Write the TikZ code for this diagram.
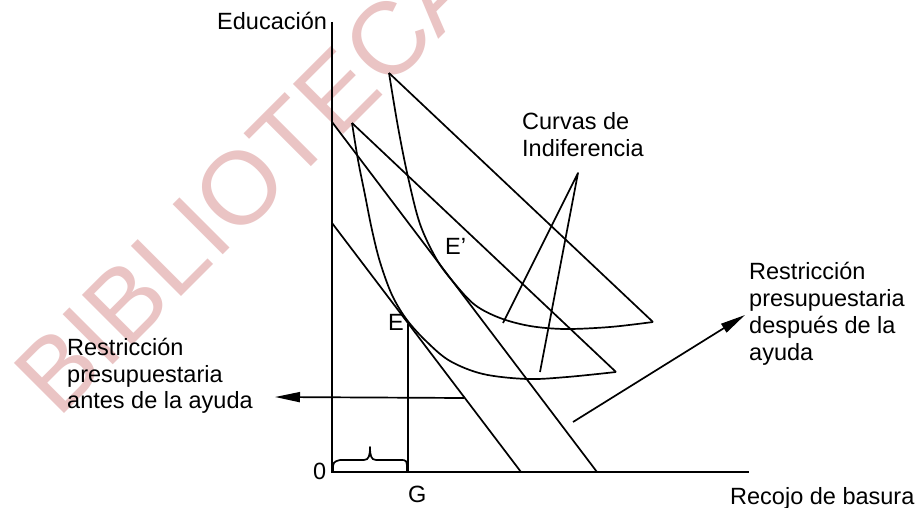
\documentclass[tikz,border=0pt]{standalone}
\usepackage{fontspec}
\setmainfont{Liberation Sans}
\usetikzlibrary{arrows.meta}
\definecolor{wm}{RGB}{234,196,196}
\tikzset{
  lbl/.style={anchor=base west, inner sep=0pt, font=\fontsize{23.5}{27}\selectfont},
  ln/.style={line width=1.7pt, line join=round},
  axis/.style={line width=2pt},
  arr/.style={line width=1.7pt, -{Triangle[length=25pt,width=10pt]}}
}
\begin{document}
\begin{tikzpicture}[x=1pt,y=-1pt]
\useasboundingbox (0,0) rectangle (918,508);
\fill[white] (0,0) rectangle (918,508);
% watermark
\begin{scope}
\clip (0,0) rectangle (918,508);
\node[rotate=45, anchor=base west, inner sep=0pt, text=wm,
      font=\fontsize{103}{103}\selectfont] (wmk) at (58,420) {BIBLIOTECA};
\end{scope}
% coordinates
\coordinate (O) at (332,472);
\coordinate (Ytop) at (332,22);
\coordinate (Xend) at (749,472);
\coordinate (A1) at (332,223);
\coordinate (B1) at (521,472);
\coordinate (A2) at (332,122);
\coordinate (B2) at (597,472);
\coordinate (T1a) at (352,123);
\coordinate (T1b) at (616,372);
\coordinate (T2a) at (389,73);
\coordinate (T2b) at (653,322);
\coordinate (Gb) at (408,472);
\coordinate (Gt) at (408,324);
\coordinate (P) at (578,173);
\coordinate (P1) at (503,323);
\coordinate (P2) at (540,372);
\coordinate (L0) at (464,398);
\coordinate (L1) at (275,397);
\coordinate (R0) at (573,422);
\coordinate (R1) at (745,315);
% axes
\draw[axis] (Ytop) -- (O) -- (Xend);
% budget lines
\draw[ln] (A1) -- (B1);
\draw[ln] (A2) -- (B2);
% G line
\draw[ln] (Gb) -- (Gt);
% indifference curves with closing lines
\draw[ln] plot[smooth, tension=0.55] coordinates {(352,123) (358,160) (365,195) (372,230) (380,262) (392,295) (407,320) (427,342) (450,361) (483,374) (527,379) (567,377) (616,372)};
\draw[ln] (T1b) -- (T1a);
\draw[ln] plot[smooth, tension=0.55] coordinates {(389,73) (398,127) (408,177) (420,224) (437,260) (455,284) (475,305) (500,318) (530,326) (565,329) (610,327) (653,322)};
\draw[ln] (T2b) -- (T2a);
% pointers
\draw[ln] (P1) -- (P) -- (P2);
% arrows
\draw[arr] (L0) -- (L1);
\draw[arr] (R0) -- (R1);
% brace
\draw[ln] (333,471) .. controls (333,462) .. (340,460) -- (364,460)
  .. controls (369,460) and (370,455) .. (370,447)
  .. controls (370,455) and (371,460) .. (376,460) -- (400,460)
  .. controls (407,460) .. (407,471);
% labels
\node[lbl] (edu) at (217,30) {Educación};
\node[lbl] (cero) at (313,479) {0};
\node[lbl] (g) at (408,502) {G};
\node[lbl] (e) at (388,330) {E};
\node[lbl] (ep) at (445,254) {E’};
\node[lbl] (rec) at (730,504) {Recojo de basura};
\node[lbl] (cv1) at (522,130) {Curvas de};
\node[lbl] (cv2) at (522,157) {Indiferencia};
\node[lbl] (la1) at (67,355) {Restricción};
\node[lbl] (la2) at (67,382) {presupuestaria};
\node[lbl] (la3) at (67,408) {antes de la ayuda};
\node[lbl] (ra1) at (749,279) {Restricción};
\node[lbl] (ra2) at (749,306) {presupuestaria};
\node[lbl] (ra3) at (749,333) {después de la};
\node[lbl] (ra4) at (749,360) {ayuda};
\end{tikzpicture}
\end{document}
